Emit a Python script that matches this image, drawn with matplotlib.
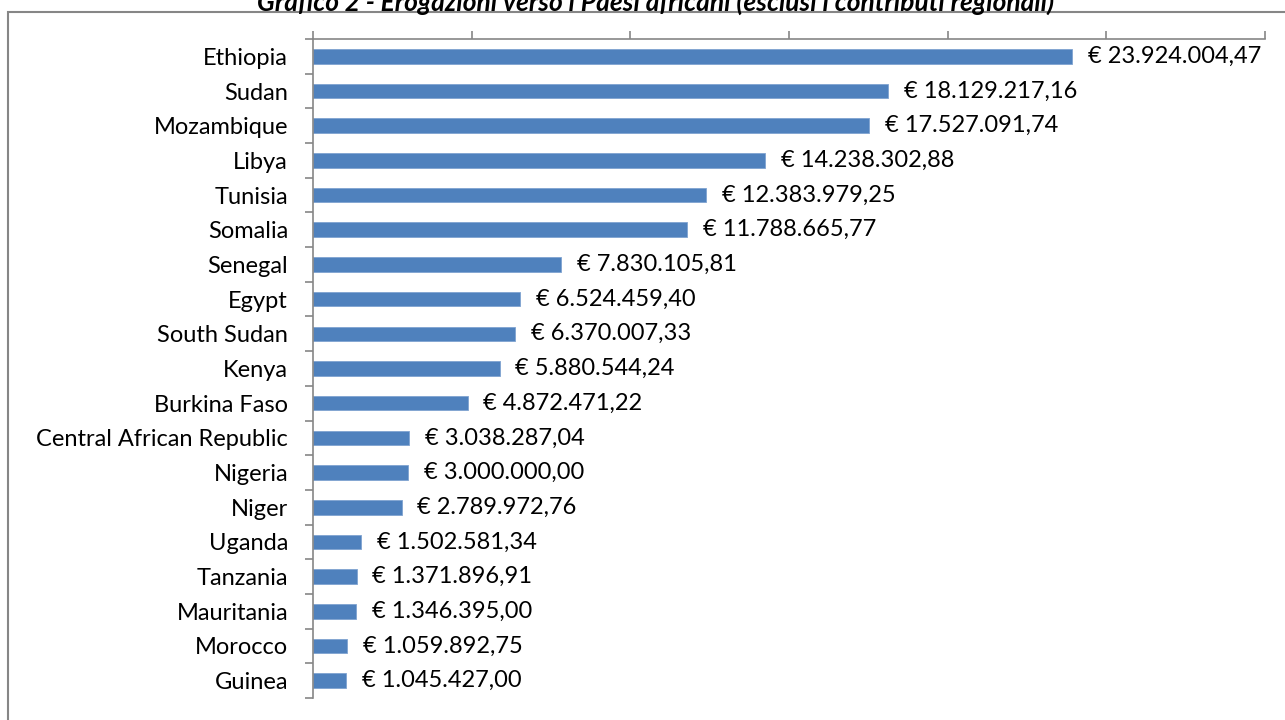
import numpy as np
import matplotlib.pyplot as plt
from matplotlib.patches import Rectangle

countries = ["Ethiopia", "Sudan", "Mozambique", "Libya", "Tunisia", "Somalia",
             "Senegal", "Egypt", "South Sudan", "Kenya", "Burkina Faso",
             "Central African Republic", "Nigeria", "Niger", "Uganda",
             "Tanzania", "Mauritania", "Morocco", "Guinea"]
amounts = [23924004.47, 18129217.16, 17527091.74, 14238302.88, 12383979.25,
           11788665.77, 7830105.81, 6524459.40, 6370007.33, 5880544.24,
           4872471.22, 3038287.04, 3000000.00, 2789972.76, 1502581.34,
           1371896.91, 1346395.00, 1059892.75, 1045427.00]

def euro(v):
    s = f"{v:,.2f}"
    s = s.replace(",", "X").replace(".", ",").replace("X", ".")
    return "€ " + s

plt.rcParams['font.family'] = ['Lato', 'DejaVu Sans']

fig = plt.figure(figsize=(12.85, 7.2), dpi=100)
ax = fig.add_axes([0.2436, 0.0306, 0.9844 - 0.2436, 0.9458 - 0.0306])

# outer frame of the chart
fig.patches.append(Rectangle((8/1285, -0.1), 1.2, 1 - 12/720 + 0.1,
                             transform=fig.transFigure, fill=False,
                             edgecolor='#868686', linewidth=1.5))

y = np.arange(len(countries))
ax.barh(y, amounts, height=0.42, color='#4F81BD', edgecolor='#7FA3D0', linewidth=0.6)
for yi, v in zip(y, amounts):
    ax.text(v + 0.5e6, yi, euro(v), va='center', ha='left', fontsize=17)

ax.set_xlim(0, 30e6)
ax.set_ylim(len(countries) - 0.5, -0.5)
ax.set_xticks(np.arange(0, 30e6 + 1, 5e6))
ax.xaxis.tick_top()
ax.tick_params(axis='x', labeltop=False, direction='out', length=6, color='#868686', width=1.2)
ax.set_yticks(y)
ax.set_yticklabels(countries, fontsize=17)
ax.set_yticks(np.arange(-0.5, len(countries), 1), minor=True)
ax.tick_params(axis='y', which='major', length=0, pad=18)
ax.tick_params(axis='y', which='minor', length=6, color='#868686', width=1.2, direction='out')
for s in ['right', 'bottom']:
    ax.spines[s].set_visible(False)
for s in ['left', 'top']:
    ax.spines[s].set_color('#868686')
    ax.spines[s].set_linewidth(1.2)

fig.text(0.51, 1.0 - 2/720, "Grafico 2 - Erogazioni verso i Paesi africani (esclusi i contributi regionali)",
         ha='center', va='center', fontsize=19, fontweight='bold', fontstyle='italic')

fig.savefig("out.png", dpi=100)
